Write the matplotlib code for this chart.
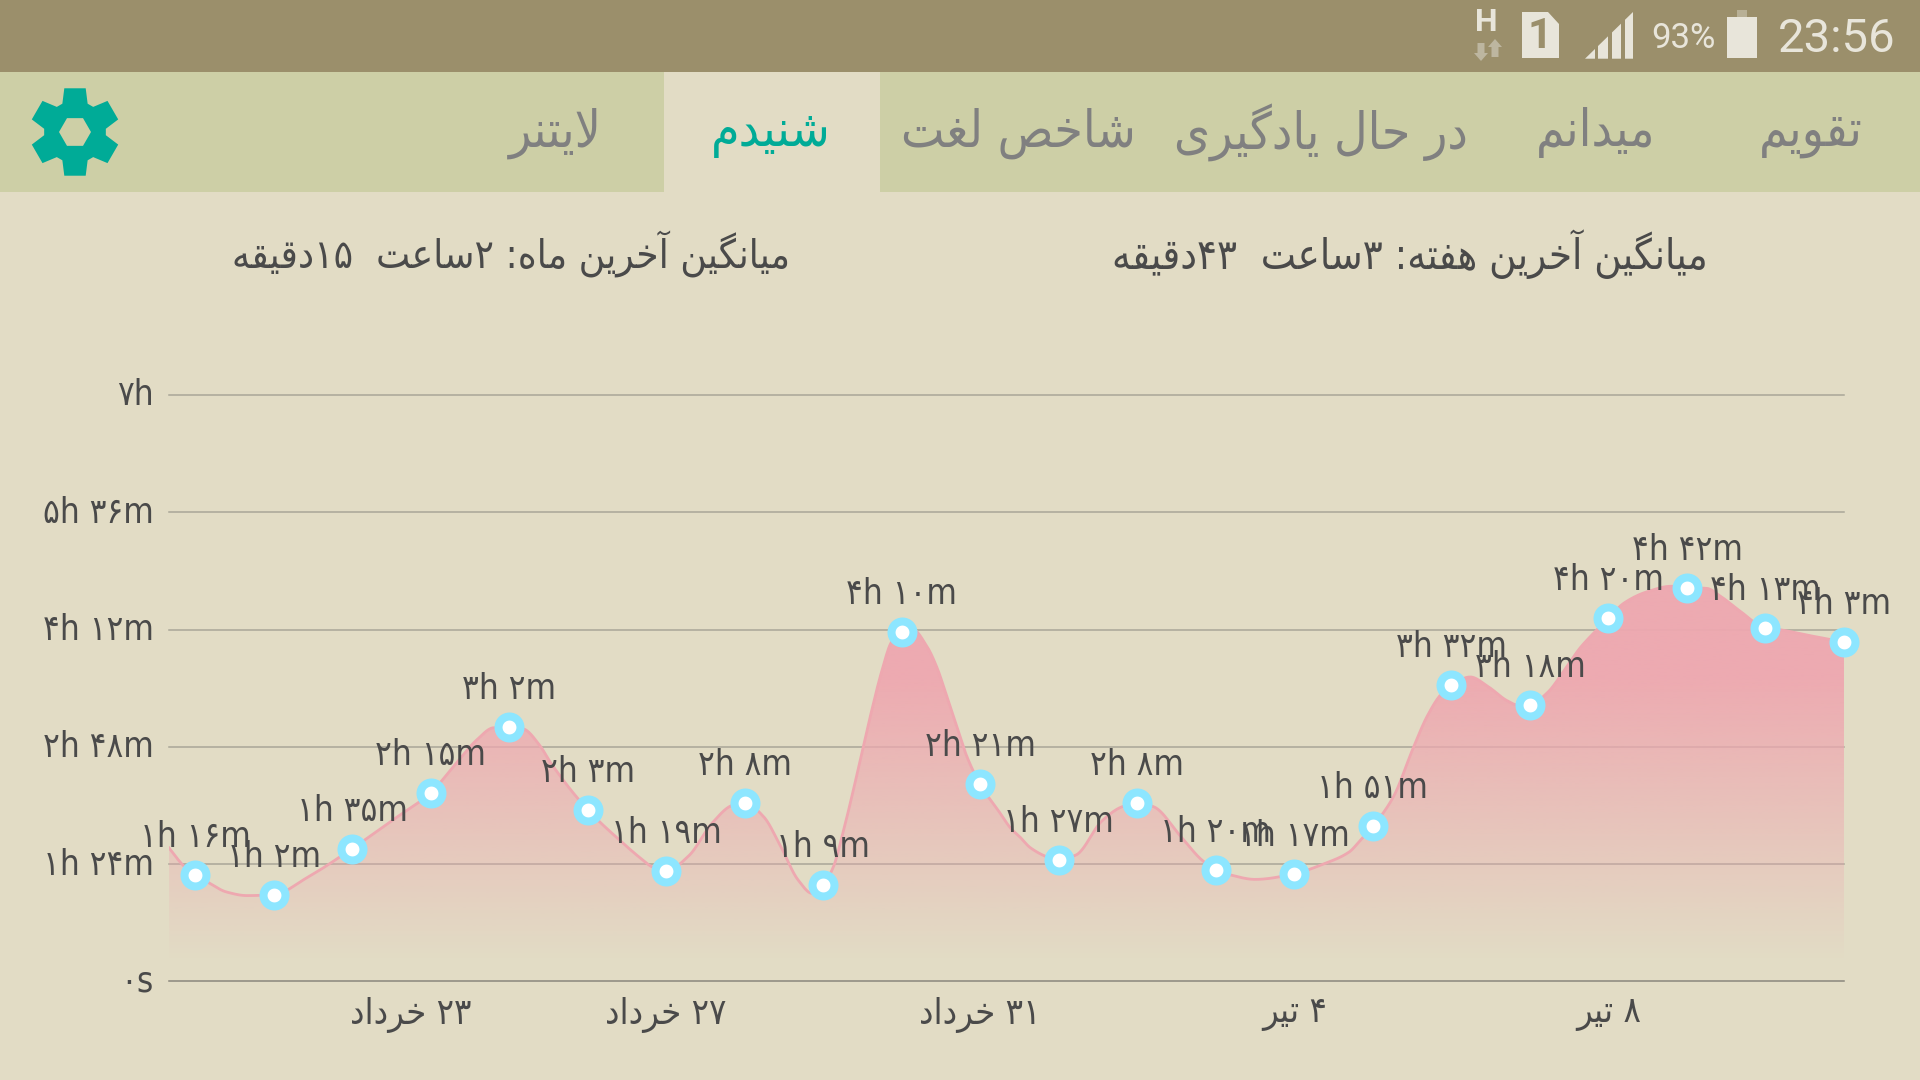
#!/usr/bin/env python
# screenshot of the listening stats screen, redrawn with matplotlib
import re
import numpy as np
import matplotlib
matplotlib.use('Agg')
import matplotlib.pyplot as plt
from matplotlib.patches import Rectangle, Polygon, PathPatch
from matplotlib.path import Path
from matplotlib.transforms import Bbox, ScaledTranslation

W, H = 1920, 1080

# minutes per day, one value per marker
minutes = [76, 62, 95, 135, 182, 123, 79, 128, 69, 250, 141, 87, 128, 80, 77, 111,
           212, 198, 260, 282, 253, 243]
# the drawn curve between the markers
extra_days = [-0.33, -0.15, 0.15, 0.4, 0.66, 1.42, 2.52, 3.33, 3.59, 3.8, 4.18, 4.39, 4.53,
              5.41, 5.7, 5.82, 6.29, 6.58, 6.84, 7.24, 7.46, 7.68, 7.86,
              8.13, 8.25, 8.38, 8.51, 8.62, 8.75, 8.87, 9.13, 9.32, 9.45, 9.58, 9.7, 9.83,
              10.25, 10.39, 10.5, 10.64, 10.89, 11.22, 11.55, 11.8, 12.21, 12.55, 12.83,
              13.2, 13.5, 14.37, 14.7, 14.84, 15.26, 15.52, 15.69, 15.86, 16.24, 16.47, 16.71,
              16.84, 17.22, 17.47, 17.64, 17.73, 18.2, 18.49, 18.8, 19.25, 19.43, 19.68,
              20.19, 20.53]
extra_minutes = [95.5, 83, 71.4, 64, 61.4, 74, 115.6, 156.5, 173, 181.6, 180.8, 169, 156.5,
                 101, 87, 82, 90, 113, 126, 118, 96.5, 72.6, 63,
                 82, 106, 136, 168, 194.5, 223, 243, 252.5, 240, 224.6, 203, 182.5, 161,
                 120.7, 109.5, 103.7, 95.6, 88.4, 90.5, 114.9, 124.9, 125, 104, 86.5,
                 76, 73, 84, 92.7, 101, 132, 168, 189.7, 205, 218, 211, 201,
                 198, 206.6, 225.5, 238.9, 244.6, 271, 279, 283, 281.5, 275.7, 265,
                 251.8, 248]

ytick_minutes = [0, 84, 168, 252, 336, 420]
xtick_days = [2.75, 6, 10, 14, 18]
xtick_labels = ['۲۳ خرداد', '۲۷ خرداد', '۳۱ خرداد', '۴ تیر', '۸ تیر']

tab_names = ['لایتنر', 'شنیدم', 'شاخص لغت', 'در حال یادگیری', 'میدانم', 'تقویم']
tab_centers = [555, 771, 1018, 1321, 1596, 1811]
week_text = 'میانگین آخرین هفته: ۳ساعت  ۴۳دقیقه'
month_text = 'میانگین آخرین ماه: ۲ساعت  ۱۵دقیقه'

BG = '#E2DCC5'
STATUS = '#9B8F6B'
TABBAR = '#CDCFA6'
TEAL = '#00AB97'
GREY = '#808080'
DARK = '#4A4A4A'
PINK = '#EEA8B0'
CYAN = '#8DE6FF'
ICON = '#E8E5DA'

FORMS = {
    'ا': 'ﺍﺎ', 'آ': 'ﺁﺂ', 'د': 'ﺩﺪ', 'ر': 'ﺭﺮ', 'و': 'ﻭﻮ',
    'ب': 'ﺏﺐﺑﺒ', 'ت': 'ﺕﺖﺗﺘ', 'ح': 'ﺡﺢﺣﺤ', 'خ': 'ﺥﺦﺧﺨ', 'س': 'ﺱﺲﺳﺴ',
    'ش': 'ﺵﺶﺷﺸ', 'ص': 'ﺹﺺﺻﺼ', 'ع': 'ﻉﻊﻋﻌ', 'غ': 'ﻍﻎﻏﻐ', 'ف': 'ﻑﻒﻓﻔ',
    'ق': 'ﻕﻖﻗﻘ', 'گ': 'ﮒﮓﮔﮕ', 'ل': 'ﻝﻞﻟﻠ', 'م': 'ﻡﻢﻣﻤ', 'ن': 'ﻥﻦﻧﻨ',
    'ه': 'ﻩﻪﻫﻬ', 'ی': 'ﯼﯽﯾﯿ',
}


def fa(text):
    # matplotlib does no shaping: pick presentation forms, then lay out right to left
    out = []
    i = 0
    while i < len(text):
        c = text[i]
        if c not in FORMS:
            out.append(c)
            i += 1
            continue
        prev = text[i - 1] if i > 0 else ''
        joins_prev = prev in FORMS and len(FORMS[prev]) == 4
        if c == 'ل' and text[i + 1:i + 2] == 'ا':
            out.append('ﻼ' if joins_prev else 'ﻻ')
            i += 2
            continue
        nxt = text[i + 1] if i + 1 < len(text) else ''
        forms = FORMS[c]
        joins_next = len(forms) == 4 and nxt in FORMS
        if joins_prev and joins_next:
            out.append(forms[3])
        elif joins_next:
            out.append(forms[2])
        elif joins_prev:
            out.append(forms[1])
        else:
            out.append(forms[0])
        i += 1
    s = ''.join(out)[::-1]
    return re.sub('[۰-۹]+', lambda m: m.group()[::-1], s)


def duration(mins):
    h, m = divmod(mins, 60)
    if mins == 0:
        s = '0s'
    elif m == 0:
        s = '%dh' % h
    else:
        s = '%dh %dm' % (h, m)
    return s.translate(str.maketrans('0123456789', '۰۱۲۳۴۵۶۷۸۹'))


def pchip(x, y, xnew):
    h = np.diff(x)
    d = np.diff(y) / h
    m = np.zeros(len(x))
    for k in range(1, len(x) - 1):
        if d[k - 1] * d[k] > 0:
            w1 = 2 * h[k] + h[k - 1]
            w2 = h[k] + 2 * h[k - 1]
            m[k] = (w1 + w2) / (w1 / d[k - 1] + w2 / d[k])
    m[0] = d[0]
    m[-1] = d[-1]
    k = np.clip(np.searchsorted(x, xnew) - 1, 0, len(h) - 1)
    t = (xnew - x[k]) / h[k]
    return ((2 * t**3 - 3 * t**2 + 1) * y[k] + (t**3 - 2 * t**2 + t) * h[k] * m[k]
            + (-2 * t**3 + 3 * t**2) * y[k + 1] + (t**3 - t**2) * h[k] * m[k + 1])


plt.rcParams['font.family'] = ['DejaVu Sans']
fig = plt.figure(figsize=(W / 100, H / 100), dpi=100, facecolor=BG)

# chrome, in screen pixels
ui = fig.add_axes([0, 0, 1, 1])
ui.set_xlim(0, W)
ui.set_ylim(H, 0)
ui.axis('off')
ui.add_patch(Rectangle((0, 0), W, 72, color=STATUS, lw=0))
ui.add_patch(Rectangle((0, 72), W, 120, color=TABBAR, lw=0))
ui.add_patch(Rectangle((664, 72), 216, 120, color=BG, lw=0))

for name, cx in zip(tab_names, tab_centers):
    ui.text(cx, 133, fa(name), ha='center', va='center', fontsize=37,
            color=TEAL if name == 'شنیدم' else GREY, stretch='condensed')
ui.text(1410, 254, fa(week_text), ha='center', va='center', fontsize=30, color=DARK, stretch='condensed')
ui.text(511, 254, fa(month_text), ha='center', va='center', fontsize=29, color=DARK, stretch='condensed')

# gear
verts = []
for k in range(6):
    a = np.pi / 2 + k * np.pi / 3
    for r, da in [(31, -0.42), (45, -0.24), (45, 0.24), (31, 0.42)]:
        verts.append((75 + r * np.cos(a + da), 132 - r * np.sin(a + da)))
hole = [(75 + 16 * np.cos(k * np.pi / 3), 132 - 16 * np.sin(k * np.pi / 3)) for k in range(6)][::-1]
codes = ([Path.MOVETO] + [Path.LINETO] * (len(verts) - 1) + [Path.CLOSEPOLY]
         + [Path.MOVETO] + [Path.LINETO] * 5 + [Path.CLOSEPOLY])
ui.add_patch(PathPatch(Path(verts + verts[:1] + hole + hole[:1], codes), color=TEAL, lw=0))

# status bar
ui.text(1895, 39, '23:56', ha='right', va='center', fontsize=34, family='Roboto', color=ICON)
ui.text(1716, 38, '93%', ha='right', va='center', fontsize=25, family='Roboto', color=ICON)
ui.add_patch(Rectangle((1727, 17), 30, 41, color=ICON, lw=0))
ui.add_patch(Rectangle((1737, 10), 10, 7, color='#B8B096', lw=0))
for x0, x1 in [(1585, 1595), (1598, 1608), (1612, 1621), (1625, 1633)]:
    top0 = 58.7 - (x0 - 1585) * 46.7 / 48
    top1 = 58.7 - (x1 - 1585) * 46.7 / 48
    ui.add_patch(Polygon([(x0, 58.7), (x0, top0), (x1, top1), (x1, 58.7)], color=ICON, lw=0))
ui.add_patch(Polygon([(1522, 12), (1548, 12), (1559, 24), (1559, 58), (1522, 58)], color=ICON, lw=0))
ui.text(1540, 36, '1', ha='center', va='center', fontsize=31, family='Roboto', weight='bold', color=STATUS)
ui.text(1486, 22, 'H', ha='center', va='center', fontsize=23, family='Roboto', weight='bold', color=ICON)
arrow = [(-3.5, 0), (3.5, 0), (3.5, 10), (7, 10), (0, 18), (-7, 10), (-3.5, 10)]
ui.add_patch(Polygon([(1481 + x, 43 + y) for x, y in arrow], color='#BDB6A0', lw=0))
ui.add_patch(Polygon([(1495 + x, 57 - y) for x, y in arrow], color='#BDB6A0', lw=0))

# chart
left, right, top, bottom = 169, 1844, 395, 981.3
ax = fig.add_axes([left / W, 1 - bottom / H, (right - left) / W, (bottom - top) / H])
ax.patch.set_alpha(0)

days = np.arange(len(minutes))
knot_x = np.concatenate([days, extra_days])
knot_y = np.concatenate([minutes, extra_minutes])
order = np.argsort(knot_x)
knot_x, knot_y = knot_x[order], knot_y[order]
xs = np.linspace(knot_x[0], knot_x[-1], 1500)
ys = pchip(knot_x, knot_y, xs)

xlim = (-26 / 78.5, 21)
ax.set_xlim(*xlim)
ax.set_ylim(0, 420)

for v in ytick_minutes:
    ax.axhline(v, color='#8A877C' if v == 0 else '#A9A698', lw=1.1, zorder=1, clip_on=False)

# fade from pink to nothing just above the baseline
grad_y = np.linspace(0, 420, 420)
alpha = np.clip((grad_y - 15) / 270 * 1.35, 0, 1) * 0.95
rgba = np.zeros((420, 2, 4))
rgba[..., :3] = matplotlib.colors.to_rgb(PINK)
rgba[..., 3] = alpha[:, None]
im = ax.imshow(rgba, extent=(xlim[0], xlim[1], 0, 420), origin='lower', aspect='auto', zorder=2)
clip = Polygon(np.column_stack([np.r_[xs, xs[-1], xs[0]], np.r_[ys, 0, 0]]), transform=ax.transData,
               facecolor='none', edgecolor='none')
ax.add_patch(clip)
im.set_clip_path(clip)

ax.plot(xs, ys, color=PINK, lw=2, zorder=3)
ax.plot(days, minutes, 'o', ms=15.8, mfc='white', mec=CYAN, mew=5.8, zorder=4, clip_on=False)
label_box = Bbox([[0, 0], [1890, H]])
for d, v in zip(days, minutes):
    lab = ax.annotate(duration(v), (d, v), xytext=(0, 38 * 0.72), textcoords='offset points', ha='center',
                      va='center', fontsize=25, color=DARK, stretch='condensed', zorder=5,
                      annotation_clip=False)
    lab.set_clip_box(label_box)
    lab.set_clip_on(True)

for s in ax.spines.values():
    s.set_visible(False)
ax.set_yticks(ytick_minutes)
ax.set_yticklabels([duration(v) for v in ytick_minutes], fontsize=25, color=DARK, stretch='condensed')
ax.set_xticks(xtick_days)
ax.set_xticklabels([fa(t) for t in xtick_labels], fontsize=26, color=DARK, stretch='condensed')
ax.tick_params(length=0, pad=11)
for t in ax.get_yticklabels():
    t.set_transform(t.get_transform() + ScaledTranslation(0, 0.03, fig.dpi_scale_trans))

fig.savefig('out.png', dpi=100, facecolor=BG)
